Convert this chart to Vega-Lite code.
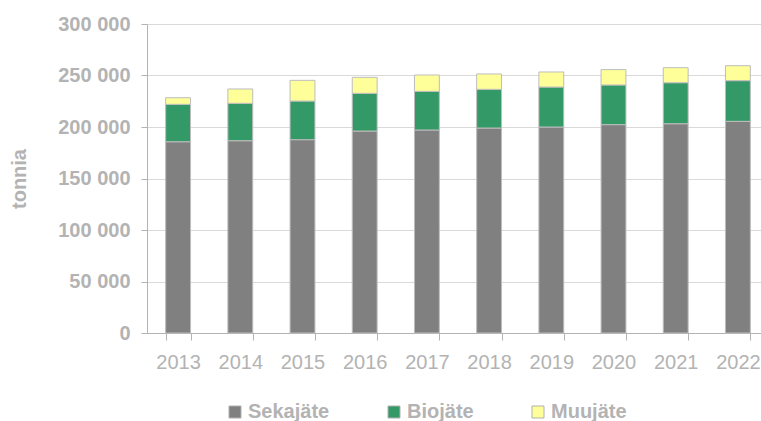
{
  "$schema": "https://vega.github.io/schema/vega-lite/v6.json",
  "width": 614,
  "height": 309,
  "autosize": {"type": "none"},
  "padding": {"left": 147, "top": 24, "right": 0, "bottom": 88},
  "background": "#ffffff",
  "data": {
    "values": [
      {"year": "2013", "jae": "Sekajäte", "n": 1, "value": 185700},
      {"year": "2013", "jae": "Biojäte", "n": 2, "value": 36300},
      {"year": "2013", "jae": "Muujäte", "n": 3, "value": 6400},
      {"year": "2014", "jae": "Sekajäte", "n": 1, "value": 186700},
      {"year": "2014", "jae": "Biojäte", "n": 2, "value": 36300},
      {"year": "2014", "jae": "Muujäte", "n": 3, "value": 13900},
      {"year": "2015", "jae": "Sekajäte", "n": 1, "value": 187700},
      {"year": "2015", "jae": "Biojäte", "n": 2, "value": 37500},
      {"year": "2015", "jae": "Muujäte", "n": 3, "value": 20100},
      {"year": "2016", "jae": "Sekajäte", "n": 1, "value": 196100},
      {"year": "2016", "jae": "Biojäte", "n": 2, "value": 36600},
      {"year": "2016", "jae": "Muujäte", "n": 3, "value": 15500},
      {"year": "2017", "jae": "Sekajäte", "n": 1, "value": 197100},
      {"year": "2017", "jae": "Biojäte", "n": 2, "value": 37500},
      {"year": "2017", "jae": "Muujäte", "n": 3, "value": 15900},
      {"year": "2018", "jae": "Sekajäte", "n": 1, "value": 199000},
      {"year": "2018", "jae": "Biojäte", "n": 2, "value": 37600},
      {"year": "2018", "jae": "Muujäte", "n": 3, "value": 14900},
      {"year": "2019", "jae": "Sekajäte", "n": 1, "value": 200000},
      {"year": "2019", "jae": "Biojäte", "n": 2, "value": 38800},
      {"year": "2019", "jae": "Muujäte", "n": 3, "value": 14600},
      {"year": "2020", "jae": "Sekajäte", "n": 1, "value": 202300},
      {"year": "2020", "jae": "Biojäte", "n": 2, "value": 38500},
      {"year": "2020", "jae": "Muujäte", "n": 3, "value": 14900},
      {"year": "2021", "jae": "Sekajäte", "n": 1, "value": 203200},
      {"year": "2021", "jae": "Biojäte", "n": 2, "value": 39800},
      {"year": "2021", "jae": "Muujäte", "n": 3, "value": 14600},
      {"year": "2022", "jae": "Sekajäte", "n": 1, "value": 205500},
      {"year": "2022", "jae": "Biojäte", "n": 2, "value": 39500},
      {"year": "2022", "jae": "Muujäte", "n": 3, "value": 14500}
    ]
  },
  "mark": {"type": "bar", "stroke": "#bdbdbd", "strokeWidth": 1},
  "encoding": {
    "x": {
      "field": "year",
      "type": "ordinal",
      "scale": {"range": [0, 622], "paddingInner": 0.6, "paddingOuter": 0.3},
      "axis": {
        "title": null,
        "labelAngle": 0,
        "tickBand": "extent",
        "tickSize": 7,
        "tickColor": "#b3b3b3",
        "domainColor": "#b3b3b3",
        "grid": false,
        "labelFont": "Liberation Sans",
        "labelFontSize": 20,
        "labelColor": "#b3b3b3",
        "labelPadding": 12
      }
    },
    "y": {
      "field": "value",
      "type": "quantitative",
      "stack": "zero",
      "scale": {"domain": [0, 300000], "nice": false},
      "axis": {
        "title": "tonnia",
        "titleFont": "Liberation Sans",
        "titleFontSize": 20,
        "titleFontWeight": "bold",
        "titleColor": "#b3b3b3",
        "titlePadding": 28,
        "values": [0, 50000, 100000, 150000, 200000, 250000, 300000],
        "labelExpr": "replace(format(datum.value, ',d'), ',', ' ')",
        "labelFont": "Liberation Sans",
        "labelFontSize": 20,
        "labelFontWeight": "bold",
        "labelColor": "#b3b3b3",
        "labelPadding": 11,
        "tickSize": 6,
        "tickColor": "#b3b3b3",
        "domainColor": "#b3b3b3",
        "grid": true,
        "gridColor": "#d9d9d9"
      }
    },
    "color": {
      "field": "jae",
      "type": "nominal",
      "scale": {
        "domain": ["Sekajäte", "Biojäte", "Muujäte"],
        "range": ["#808080", "#339966", "#ffff99"]
      },
      "legend": {
        "title": null,
        "orient": "none",
        "legendX": 78,
        "legendY": 378,
        "direction": "horizontal",
        "symbolType": "square",
        "symbolSize": 144,
        "symbolStrokeColor": "#b0b0b0",
        "symbolStrokeWidth": 1,
        "labelFont": "Liberation Sans",
        "labelFontSize": 20,
        "labelFontWeight": "bold",
        "labelColor": "#b3b3b3",
        "labelOffset": 3,
        "columnPadding": 54,
        "labelLimit": 200
      }
    },
    "order": {"field": "n", "type": "quantitative"}
  },
  "config": {"view": {"stroke": null}}
}
